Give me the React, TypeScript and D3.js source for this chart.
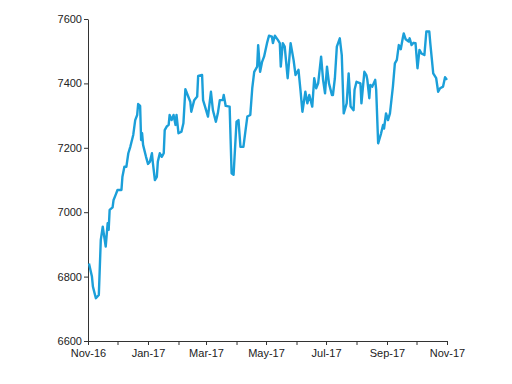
import React, { useRef, useEffect } from "react";
import * as d3 from "d3";

// days since 1 Nov 2016
const dayOffsets: number[] = [
  1, 4, 5, 8, 11, 13, 15, 18, 20, 21, 22, 25, 26, 28, 30, 34, 35, 37, 39, 41,
  43, 46, 48, 50, 51, 53, 54, 55, 56, 59, 61, 63, 65, 66, 68, 70, 71, 73, 75, 77,
  78, 80, 82, 83, 85, 87, 89, 90, 92, 95, 97, 99, 100, 104, 105, 108, 111, 112, 116, 117,
  119, 122, 125, 127, 130, 132, 134, 137, 138, 140, 144, 146, 148, 151, 153, 155, 158, 160, 162, 165,
  167, 169, 172, 173, 175, 177, 179, 182, 184, 187, 188, 190, 193, 195, 196, 198, 200, 203, 206, 209,
  211, 214, 216, 218, 221, 223, 225, 228, 230, 232, 234, 237, 239, 241, 243, 245, 248, 249, 251, 253,
  256, 258, 260, 263, 265, 267, 270, 271, 273, 277, 278, 281, 283, 284, 286, 287, 289, 292, 293, 295,
  298, 300, 301, 303, 305, 307, 310, 312, 314, 316, 318, 320, 321, 323, 326, 327, 329, 331, 333, 335,
  337, 339, 342, 344, 347, 348, 351, 354, 356, 358, 361, 363, 365,
];

const indexValues: number[] = [
  6841, 6800, 6769, 6733, 6743, 6914, 6955, 6893, 6966, 6945, 7007, 7015, 7038, 7053, 7069, 7069, 7110, 7141, 7141, 7183,
  7203, 7240, 7286, 7302, 7336, 7330, 7224, 7245, 7209, 7172, 7150, 7157, 7183, 7152, 7100, 7110, 7157, 7183, 7172, 7183,
  7255, 7266, 7271, 7302, 7286, 7302, 7271, 7302, 7245, 7250, 7276, 7382, 7374, 7343, 7312, 7348, 7359, 7423, 7426, 7348,
  7328, 7297, 7374, 7317, 7281, 7307, 7348, 7348, 7364, 7330, 7328, 7121, 7116, 7281, 7286, 7203, 7203, 7250, 7297, 7302,
  7385, 7436, 7452, 7519, 7436, 7467, 7483, 7525, 7548, 7545, 7525, 7548, 7535, 7525, 7452, 7525, 7514, 7416, 7525, 7473,
  7426, 7442, 7380, 7312, 7374, 7338, 7364, 7328, 7416, 7385, 7400, 7483, 7411, 7369, 7452, 7400, 7364, 7364, 7416, 7514,
  7540, 7488, 7307, 7338, 7431, 7328, 7317, 7380, 7405, 7400, 7338, 7436, 7426, 7411, 7354, 7395, 7390, 7411, 7380, 7214,
  7245, 7271, 7260, 7307, 7286, 7307, 7390, 7462, 7473, 7519, 7506, 7540, 7555, 7537, 7530, 7540, 7519, 7526, 7525, 7447,
  7504, 7493, 7488, 7561, 7561, 7525, 7431, 7416, 7374, 7385, 7390, 7419, 7411,
];

const yTicks: number[] = [6600, 6800, 7000, 7200, 7400, 7600];

const chart_width = 512;
const chart_height = 384;
const margin = { top: 19, right: 65, bottom: 43, left: 88 };

const App: React.FC = () => {
  const d3Container = useRef<SVGSVGElement>(null);

  useEffect(() => {
    if (!d3Container.current) return;
    const svg = d3.select(d3Container.current);
    svg.selectAll("*").remove();

    const start = new Date(2016, 10, 1);
    const end = new Date(2017, 10, 1);
    const data = dayOffsets.map((d, i) => ({
      date: d3.timeDay.offset(start, d),
      value: indexValues[i],
    }));

    const x_scale = d3
      .scaleTime()
      .domain([start, end])
      .range([margin.left, chart_width - margin.right]);

    const y_scale = d3
      .scaleLinear()
      .domain([6600, 7600])
      .range([chart_height - margin.bottom, margin.top]);

    const months = d3.timeMonth.range(start, d3.timeDay.offset(end, 1));
    const fmt = d3.timeFormat("%b-%y");

    const xAxis = d3
      .axisBottom<Date>(x_scale)
      .tickValues(months)
      .tickSizeInner(4)
      .tickSizeOuter(0)
      .tickFormat((d, i) => (i % 2 === 0 ? fmt(d) : ""));

    const yAxis = d3
      .axisLeft(y_scale)
      .tickValues(yTicks)
      .tickSizeInner(4)
      .tickSizeOuter(0)
      .tickFormat(d3.format("d"));

    const gx = svg
      .append("g")
      .attr("transform", "translate(0," + (chart_height - margin.bottom) + ")")
      .call(xAxis);

    const gy = svg
      .append("g")
      .attr("transform", "translate(" + margin.left + ",0)")
      .call(yAxis);

    [gx, gy].forEach((g) => {
      g.selectAll("path, line").attr("stroke", "#333").attr("stroke-width", 1);
      g.selectAll("text")
        .attr("fill", "#222")
        .style("font-family", "Liberation Sans, Arial, sans-serif")
        .style("font-size", "11px");
    });
    gx.selectAll("text").attr("dy", "0.95em").attr("y", 6);
    gy.selectAll("text").attr("x", -6);

    const line = d3
      .line<{ date: Date; value: number }>()
      .x((d) => x_scale(d.date))
      .y((d) => y_scale(d.value));

    svg
      .append("path")
      .datum(data)
      .attr("d", line)
      .attr("fill", "none")
      .attr("stroke", "#1b9fd9")
      .attr("stroke-width", 2.4)
      .attr("stroke-linejoin", "round");
  }, []);

  return (
    <div style={{ position: "absolute", left: 0, top: 0 }}>
      <svg
        ref={d3Container}
        width={chart_width}
        height={chart_height}
        style={{ display: "block", background: "#fff" }}
      />
    </div>
  );
};

export default App;
